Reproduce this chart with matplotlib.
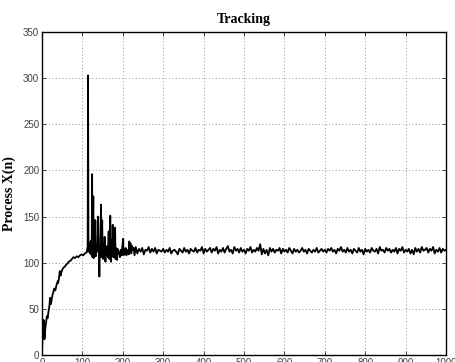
import numpy as np
import matplotlib.pyplot as plt

# DATA

# start-up: rise from ~0 towards the tracked level
n_rise = [0, 2, 4, 5, 6, 7, 8, 10, 12, 14, 16, 18, 20, 22, 24, 26, 28, 30, 33, 36,
          39, 40, 42, 44, 46, 48, 51, 54, 57, 60, 63, 66, 70, 74, 78, 82, 86, 90,
          94, 98, 102, 106, 110]
x_rise = [5, 25, 38, 30, 17, 20, 28, 35, 42, 40, 47, 52, 62, 55, 60, 65, 68, 72, 70, 76,
          80, 78, 83, 91, 86, 90, 93, 95, 96, 98, 99, 101, 102, 104, 106, 105, 107, 106,
          108, 109, 108, 110, 111]

# burst of spikes between n=110 and n=230
n_burst = [111, 113, 114, 115, 117, 119, 121, 123, 124, 125,
           127, 128, 129, 131, 132, 133, 135, 137, 139, 141,
           142, 143, 145, 146, 147, 149, 150, 151, 153, 154,
           155, 157, 158, 159, 161, 163, 165, 166, 167, 169,
           170, 171, 173, 174, 175, 177, 178, 179, 181, 182,
           183, 185, 186, 187, 189, 191, 193, 195, 197, 199,
           201, 202, 203, 205, 207, 209, 211, 213, 215, 216,
           217, 219, 221, 223, 225, 227, 229]
x_burst = [112, 118, 303, 112, 122, 110, 124, 108, 196, 106,
           172, 105, 146, 108, 146, 107, 120, 112, 150, 106,
           85, 110, 118, 163, 106, 146, 110, 104, 120, 108,
           128, 101, 114, 110, 118, 106, 134, 112, 104, 151,
           110, 101, 124, 110, 141, 106, 132, 112, 138, 104,
           116, 108, 103, 115, 110, 112, 106, 114, 108, 118,
           126, 108, 114, 110, 116, 108, 112, 114, 109, 123,
           112, 121, 110, 118, 114, 116, 108]

# steady tracking, n = 232, 236, ..., 1000
x_steady = [117, 110, 115, 112, 116, 109, 114, 113, 117, 111, 115, 112,
            116, 110, 114, 113, 112, 115, 111, 114, 112, 116, 110, 113,
            114, 112, 109, 115, 113, 111, 116, 112, 114, 110, 115, 113,
            112, 116, 111, 114, 113, 117, 110, 115, 112, 114, 116, 111,
            115, 113, 117, 110, 114, 112, 116, 111, 115, 118, 112, 114,
            110, 117, 113, 115, 111, 116, 112, 114, 110, 115, 113, 117,
            111, 114, 112, 116, 113, 120, 109, 115, 110, 114, 108, 116,
            112, 115, 111, 114, 113, 116, 110, 115, 112, 114, 111, 116,
            113, 110, 115, 112, 114, 111, 113, 116, 112, 114, 110, 115,
            113, 111, 114, 112, 116, 111, 113, 115, 112, 114, 111, 115,
            113, 116, 112, 114, 110, 115, 113, 117, 112, 114, 111, 116,
            112, 114, 110, 115, 113, 111, 116, 112, 114, 109, 115, 112,
            114, 111, 116, 113, 112, 115, 110, 117, 113, 114, 111, 116,
            113, 115, 111, 114, 112, 116, 110, 115, 113, 117, 111, 114,
            112, 115, 110, 114, 109, 116, 112, 115, 111, 117, 113, 114,
            116, 111, 115, 113, 117, 110, 114, 112, 116, 111, 115, 113,
            114]
n_steady = list(range(232, 1001, 4))

x_ticks = [0, 100, 200, 300, 400, 500, 600, 700, 800, 900, 1000]
y_ticks = [0, 50, 100, 150, 200, 250, 300, 350]

# PLOT

n = np.array(n_rise + n_burst + n_steady)
x = np.array(x_rise + x_burst + x_steady)

fig = plt.figure(figsize=(4.55, 3.62), dpi=100)
ax = fig.add_axes([42 / 455, 7 / 362, 404 / 455, 323 / 362])

ax.plot(n, x, color='black', linewidth=1.3)

ax.set_xlim(0, 1000)
ax.set_ylim(0, 350)
ax.set_xticks(x_ticks)
ax.set_yticks(y_ticks)

# matlab-like look: inward ticks on all sides, dotted grid
ax.tick_params(direction='in', length=3, width=0.5, top=True, right=True,
               labelsize=7, labelcolor='0.25', pad=2)
for lab in ax.get_xticklabels() + ax.get_yticklabels():
    lab.set_family('Liberation Sans')
for sp in ax.spines.values():
    sp.set_linewidth(1.0)
ax.grid(True, color='0.45', linewidth=0.6, linestyle=(0, (1, 3)))

ax.set_title('Tracking', family='Liberation Serif', fontweight='bold',
             fontsize=10, pad=6.5)
ax.set_ylabel('Process X(n)', family='Liberation Serif', fontweight='bold',
              fontsize=10)
ax.yaxis.set_label_coords(-0.064, 0.5)

fig.savefig('out.png', dpi=100)
